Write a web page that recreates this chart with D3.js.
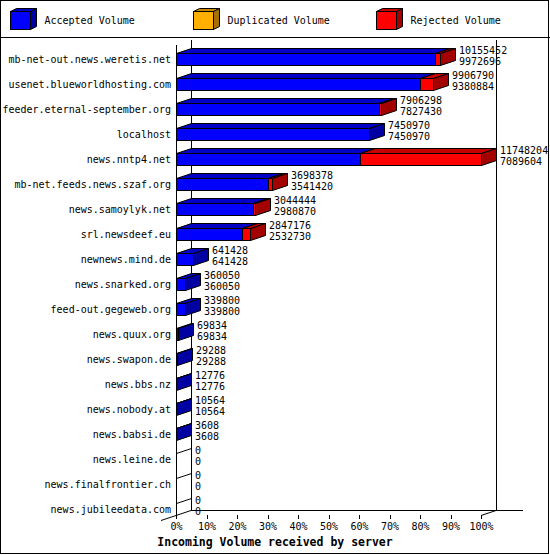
<!DOCTYPE html>
<html>
<head>
<meta charset="utf-8">
<script src="https://cdn.jsdelivr.net/npm/d3@7"></script>
<style>
  html, body { margin: 0; padding: 0; background: #fff; }
  svg text { font-family: "DejaVu Sans Mono", monospace; }
</style>
</head>
<body>
<script>
const servers = [
  "mb-net-out.news.weretis.net",
  "usenet.blueworldhosting.com",
  "feeder.eternal-september.org",
  "localhost",
  "news.nntp4.net",
  "mb-net.feeds.news.szaf.org",
  "news.samoylyk.net",
  "srl.newsdeef.eu",
  "newnews.mind.de",
  "news.snarked.org",
  "feed-out.gegeweb.org",
  "news.quux.org",
  "news.swapon.de",
  "news.bbs.nz",
  "news.nobody.at",
  "news.babsi.de",
  "news.leine.de",
  "news.finalfrontier.ch",
  "news.jubileedata.com"
];
const acceptedVolume = [9972696, 9380884, 7827430, 7450970, 7089604, 3541420, 2980870, 2532730,
  641428, 360050, 339800, 69834, 29288, 12776, 10564, 3608, 0, 0, 0];
const duplicatedVolume = [0, 0, 0, 0, 0, 0, 0, 0, 0, 0, 0, 0, 0, 0, 0, 0, 0, 0, 0];
const rejectedVolume = [182756, 525906, 78868, 0, 4658600, 156958, 63574, 314446,
  0, 0, 0, 0, 0, 0, 0, 0, 0, 0, 0];
const seriesNames = ["Accepted Volume", "Duplicated Volume", "Rejected Volume"];
const percentTicks = [0, 10, 20, 30, 40, 50, 60, 70, 80, 90, 100];
const axisTitle = "Incoming Volume received by server";

const seriesColors = ["#0000ff", "#ffb000", "#ff0000"];
const series = [acceptedVolume, duplicatedVolume, rejectedVolume];
const totals = acceptedVolume.map((a, i) => a + duplicatedVolume[i] + rejectedVolume[i]);

const W = 550, H = 555;
const DX = 15, DY = 5, HB = 6;
const shade = (c, f) => { const r = d3.rgb(c); return d3.rgb(r.r * f, r.g * f, r.b * f).formatHex(); };

const svg = d3.select("body").append("svg").attr("width", W).attr("height", H);
svg.append("rect").attr("x", 0).attr("y", 0).attr("width", W).attr("height", H).attr("fill", "#fff");

const x = d3.scaleLinear().domain([0, d3.max(totals)]).range([176, 481]);
const pct = d3.scaleLinear().domain([0, 100]).range(x.range());
const y = d3.scalePoint().domain(servers).range([59, 509]);

const x0 = x.range()[0], x1 = x.range()[1];
const yTop = 40, yFloor = 510;

// frame / axes
const g = svg.append("g").attr("stroke", "#000").attr("stroke-width", 1).attr("fill", "none")
  .attr("shape-rendering", "crispEdges");
g.append("line").attr("x1", x0 + DX + 0.5).attr("x2", x0 + DX + 0.5).attr("y1", yTop).attr("y2", yFloor);
g.append("line").attr("x1", x1 + DX + 0.5).attr("x2", x1 + DX + 0.5).attr("y1", yTop).attr("y2", yFloor);
g.append("line").attr("x1", x0 + DX).attr("x2", x1 + DX + 27).attr("y1", yFloor + 0.5).attr("y2", yFloor + 0.5);
g.append("line").attr("x1", x0 + 0.5).attr("x2", x0 + 0.5).attr("y1", yTop + DY).attr("y2", yFloor + DY);
g.append("line").attr("x1", x0 - DX).attr("y1", yFloor + 2 * DY + 0.5).attr("x2", x0 + DX).attr("y2", yFloor + 0.5)
  .attr("shape-rendering", "auto");
g.append("line").attr("x1", x1).attr("y1", yFloor + DY + 0.5).attr("x2", x1 + DX).attr("y2", yFloor + 0.5)
  .attr("shape-rendering", "auto");

// percent axis
const axis = d3.axisBottom(pct).tickValues(percentTicks).tickFormat(d => d + "%").tickSize(4).tickPadding(4);
const ax = svg.append("g").attr("transform", `translate(0,${yFloor + DY})`).call(axis);
ax.select(".domain").remove();
ax.selectAll("line").attr("stroke", "#000").attr("shape-rendering", "crispEdges");
ax.selectAll("text").attr("fill", "#000").attr("font-size", "10px").attr("font-family", "DejaVu Sans Mono");

// bars
const bars = svg.append("g").attr("stroke", "#000").attr("stroke-width", 1).attr("stroke-linejoin", "miter");
servers.forEach((s, i) => {
  const c = y(s);
  const t = c - HB + 0.5, btm = c + HB + 0.5;
  let start = 0;
  if (totals[i] === 0) {
    const a = Math.round(x(0)) + 0.5;
    bars.append("line").attr("x1", a).attr("y1", t).attr("x2", a + DX).attr("y2", t - DY);
  }
  series.forEach((vals, k) => {
    const v = vals[i];
    if (v > 0) {
      const a = Math.round(x(start)) + 0.5, b = Math.round(x(start + v)) + 0.5;
      const col = seriesColors[k];
      bars.append("polygon").attr("fill", col)
        .attr("points", [[a, t], [b, t], [b, btm], [a, btm]].join(" "));
      bars.append("polygon").attr("fill", shade(col, 0.78))
        .attr("points", [[a, t], [b, t], [b + DX, t - DY], [a + DX, t - DY]].join(" "));
      bars.append("polygon").attr("fill", shade(col, 0.64))
        .attr("points", [[b, t], [b + DX, t - DY], [b + DX, btm - DY], [b, btm]].join(" "));
    }
    start += v;
  });
  const tx = Math.round(x(totals[i])) + DX + 4;
  svg.append("text").attr("x", tx).attr("y", c - 5).attr("font-size", "10px").text(totals[i]);
  svg.append("text").attr("x", tx).attr("y", c + 6).attr("font-size", "10px").text(acceptedVolume[i]);
  svg.append("text").attr("x", 171).attr("y", c + 4).attr("text-anchor", "end").attr("font-size", "10px").text(s);
});

// legend
svg.append("line").attr("x1", 0).attr("x2", W).attr("y1", 37.5).attr("y2", 37.5)
  .attr("stroke", "#000").attr("shape-rendering", "crispEdges");
seriesNames.forEach((name, k) => {
  const lx = 10.5 + 183 * k, ly = 11.5, w = 20, h = 18, d = 6, dd = 3;
  const col = seriesColors[k];
  const lg = svg.append("g").attr("stroke", "#000");
  lg.append("polygon").attr("fill", shade(col, 0.78))
    .attr("points", [[lx, ly], [lx + w, ly], [lx + w + d, ly - dd], [lx + d, ly - dd]].join(" "));
  lg.append("polygon").attr("fill", shade(col, 0.64))
    .attr("points", [[lx + w, ly], [lx + w + d, ly - dd], [lx + w + d, ly + h - dd], [lx + w, ly + h]].join(" "));
  lg.append("rect").attr("x", lx).attr("y", ly).attr("width", w).attr("height", h).attr("fill", col);
  svg.append("text").attr("x", lx + 34).attr("y", 24).attr("font-size", "10px").text(name);
});

// title
svg.append("text").attr("x", W / 2).attr("y", 546).attr("text-anchor", "middle")
  .attr("font-size", "11.5px").attr("font-weight", "bold").text(axisTitle);

// outer border
svg.append("rect").attr("x", 0.5).attr("y", 0.5).attr("width", W - 2).attr("height", H - 2)
  .attr("fill", "none").attr("stroke", "#000").attr("shape-rendering", "crispEdges");
</script>
</body>
</html>
